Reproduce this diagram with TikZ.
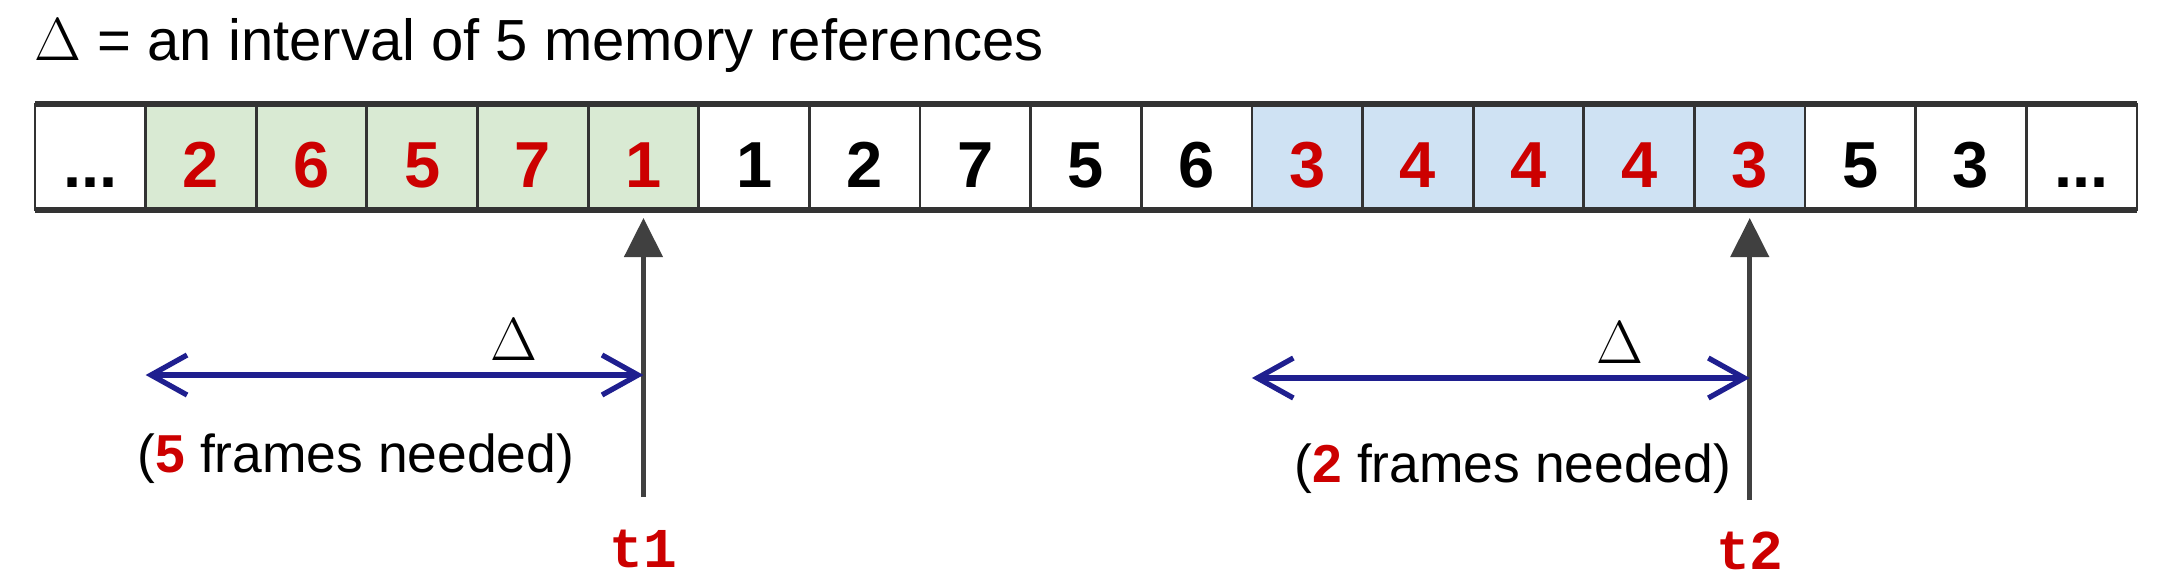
\documentclass[tikz,border=0pt]{standalone}
\usepackage{fontspec}
\setmainfont{Liberation Sans}
\newfontfamily\codefont{Liberation Mono}
\usepackage{xcolor}
\usepackage{tikz}
\usetikzlibrary{arrows.meta,positioning}
\definecolor{winA}{HTML}{D9EAD3}
\definecolor{winB}{HTML}{CFE2F3}
\definecolor{hot}{HTML}{CC0000}
\definecolor{navy}{HTML}{1F1F8F}
\definecolor{grid}{HTML}{333333}
\definecolor{tick}{HTML}{404040}
\newcommand{\moredots}{...}
\tikzset{
  cell/.style ={draw=grid, line width=0.8pt, minimum width=11.063mm, minimum height=10.6mm, inner sep=0pt, outer sep=0pt, text height=6mm, text depth=0pt, font=\fontsize{18.5}{20}\selectfont\bfseries},
  win0/.style ={fill=white},
  win1/.style ={fill=winA, text=hot},
  win2/.style ={fill=winB, text=hot},
  rim/.style  ={draw=grid, line width=1.6pt},
  tarr/.style ={-{Triangle[length=3.9mm,width=3.8mm]}, line width=1.3pt, draw=tick},
  span/.style ={{Straight Barb[length=3.6mm,width=4mm]}-{Straight Barb[length=3.6mm,width=4mm]}, line width=1.5pt, draw=navy},
  head/.style ={font=\fontsize{16.5}{20}\selectfont, inner sep=0pt, anchor=base west},
  note/.style ={font=\fontsize{15.2}{18}\selectfont, inner sep=0pt, anchor=base},
  dlt/.style  ={font=\fontsize{17}{20}\selectfont, inner sep=0pt, anchor=base},
  tlab/.style ={font=\fontsize{16}{18}\selectfont\codefont\bfseries, text=hot, inner sep=0pt, anchor=base},
}
\begin{document}
\begin{tikzpicture}
  \useasboundingbox (0,0) rectangle (21.76,5.79);
  \node[head] (title) at (0.34,5.19) {$\Delta$ = an interval of 5 memory references};
  % reference string
  \foreach \v [count=\i from 0] in {\moredots,2,6,5,7,1,1,2,7,5,6,3,4,4,4,3,5,3,\moredots}{
    \pgfmathtruncatemacro\w{(\i>=1 && \i<=5) ? 1 : ((\i>=11 && \i<=15) ? 2 : 0)}
    \node[cell, win\w] (c\i) at ({0.35+1.1063*(\i+0.5)},4.22) {\v};
  }
  \draw[rim] (c0.north west) -- (c18.north east);
  \draw[rim] (c0.south west) -- (c18.south east);
  % window at t1
  \coordinate (t1foot) at (c5 |- 0,0.82);
  \draw[tarr, shorten >=0.8mm] (t1foot) -- (c5.south);
  \node[tlab] (t1) at (c5 |- 0,0.12) {t1};
  \coordinate (w1a) at (c1.south west |- 0,2.04);
  \coordinate (w1b) at (c5 |- 0,2.04);
  \draw[span] (w1a) -- (w1b);
  \node[dlt] (d1) at (5.14,2.19) {$\Delta$};
  \node[note] (n1) at (3.56,1.07) {(\textcolor{hot}{\bfseries 5} frames needed)};
  % window at t2
  \coordinate (t2foot) at (c15 |- 0,0.79);
  \draw[tarr, shorten >=0.8mm] (t2foot) -- (c15.south);
  \node[tlab] (t2) at (c15 |- 0,0.10) {t2};
  \coordinate (w2a) at (c11.south west |- 0,2.01);
  \coordinate (w2b) at (c15 |- 0,2.01);
  \draw[span] (w2a) -- (w2b);
  \node[dlt] (d2) at (16.20,2.16) {$\Delta$};
  \node[note] (n2) at (15.13,0.97) {(\textcolor{hot}{\bfseries 2} frames needed)};
\end{tikzpicture}
\end{document}
